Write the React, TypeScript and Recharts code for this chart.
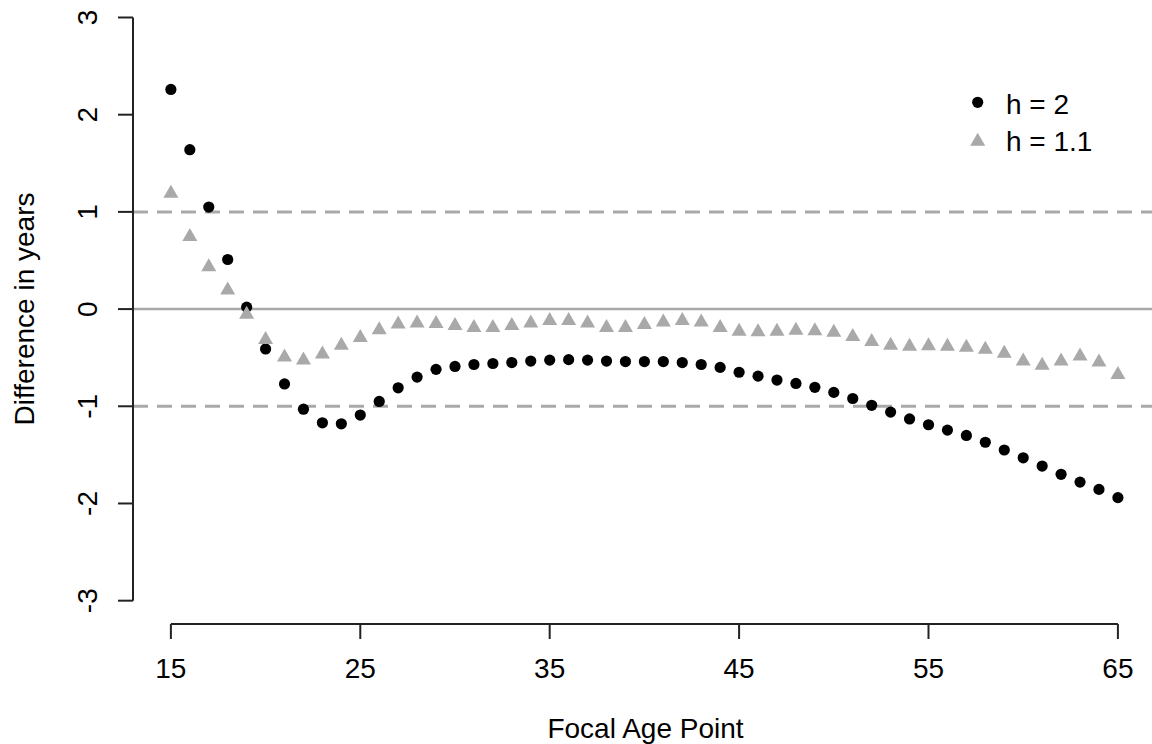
import { ScatterChart, Scatter, XAxis, YAxis, ReferenceLine, Legend } from 'recharts';

const ages = [
  15, 16, 17, 18, 19, 20, 21, 22, 23, 24, 25, 26, 27, 28, 29, 30, 31, 32, 33, 34,
  35, 36, 37, 38, 39, 40, 41, 42, 43, 44, 45, 46, 47, 48, 49, 50, 51, 52, 53, 54,
  55, 56, 57, 58, 59, 60, 61, 62, 63, 64, 65,
];

// h = 2 (black dots)
const h2Values = [
  2.26, 1.64, 1.05, 0.51, 0.02, -0.41, -0.77, -1.03, -1.17, -1.18, -1.09, -0.95, -0.81, -0.7, -0.62, -0.59, -0.57,
  -0.56, -0.55, -0.535, -0.525, -0.52, -0.525, -0.535, -0.54, -0.54, -0.54, -0.55, -0.57, -0.6, -0.65, -0.69,
  -0.73, -0.765, -0.805, -0.857, -0.92, -0.99, -1.06, -1.13, -1.19, -1.245, -1.3, -1.37, -1.45, -1.53, -1.615,
  -1.7, -1.78, -1.855, -1.94,
];

// h = 1.1 (grey triangles)
const h11Values = [
  1.19, 0.745, 0.435, 0.195, -0.055, -0.315, -0.495, -0.525, -0.465, -0.375, -0.295, -0.215, -0.155, -0.145, -0.15,
  -0.17, -0.19, -0.19, -0.17, -0.145, -0.12, -0.12, -0.145, -0.19, -0.19, -0.16, -0.135, -0.12, -0.135, -0.19,
  -0.23, -0.235, -0.23, -0.22, -0.225, -0.24, -0.285, -0.335, -0.375, -0.385, -0.38, -0.385, -0.395, -0.415,
  -0.455, -0.535, -0.58, -0.535, -0.485, -0.545, -0.675,
];

const seriesNames = ['h = 2', 'h = 1.1'];
const xTicks = [15, 25, 35, 45, 55, 65];
const yTicks = [-3, -2, -1, 0, 1, 2, 3];
const bandLines = [-1, 1];

const FONT = '"Liberation Sans", Arial, Helvetica, sans-serif';
const FONT_SIZE = 28;
const GREY = '#a9a9a9';
const INK = '#222';

const h2Data = ages.map((age, i) => ({ age, diff: h2Values[i] }));
const h11Data = ages.map((age, i) => ({ age, diff: h11Values[i] }));

function triPath(cx: number, cy: number) {
  const h = 13;
  const w = 7.5;
  return `M${cx},${cy - (2 * h) / 3} L${cx + w},${cy + h / 3} L${cx - w},${cy + h / 3} Z`;
}

function DotShape(props: any) {
  const { cx, cy } = props;
  if (cx == null || cy == null) return null;
  return <circle cx={cx} cy={cy} r={5.6} fill="#000" />;
}

function TriShape(props: any) {
  const { cx, cy } = props;
  if (cx == null || cy == null) return null;
  return <path d={triPath(cx, cy)} fill={GREY} />;
}

function YTick(props: any) {
  const { x, y, payload } = props;
  return (
    <text
      x={x}
      y={y}
      transform={`rotate(-90, ${x}, ${y})`}
      textAnchor="middle"
      fontSize={FONT_SIZE}
      fontFamily={FONT}
      fill="#000"
    >
      {payload.value}
    </text>
  );
}

function renderLegend(props: any) {
  // keep the plotting order (h = 2 first), not alphabetical
  const payload = [...(props.payload || [])].sort(
    (a: any, b: any) => seriesNames.indexOf(a.value) - seriesNames.indexOf(b.value),
  );
  return (
    <svg width={190} height={80}>
      {payload.map((entry: any, i: number) => {
        const cy = 22.3 + i * 37;
        return (
          <g key={entry.value}>
            {entry.type === 'triangle' ? (
              <path d={triPath(17.7, cy + 2)} fill={GREY} />
            ) : (
              <circle cx={17.7} cy={cy} r={5.6} fill="#000" />
            )}
            <text x={46} y={cy + 11.7} fontSize={FONT_SIZE} fontFamily={FONT} fill="#000">
              {entry.value}
            </text>
          </g>
        );
      })}
    </svg>
  );
}

export default function App() {
  return (
    <div style={{ position: 'absolute', left: 0, top: 0, width: 1152, height: 744, background: '#fff' }}>
      <ScatterChart width={1152} height={744} margin={{ top: 0, right: 0, bottom: 0, left: 0 }}>
        <XAxis
          type="number"
          dataKey="age"
          domain={[13, 66.8]}
          allowDataOverflow
          ticks={xTicks}
          interval={0}
          height={120}
          axisLine={false}
          tickSize={15}
          tickMargin={19}
          tickLine={{ stroke: INK, strokeWidth: 2 }}
          tick={{ fill: '#000', fontSize: FONT_SIZE, fontFamily: FONT }}
          label={{
            content: (p: any) => {
              const vb = p.viewBox || { x: 133, y: 624, width: 1019 };
              return (
                <text
                  x={vb.x + vb.width / 2 + 3}
                  y={vb.y + 114}
                  textAnchor="middle"
                  fontSize={FONT_SIZE}
                  fontFamily={FONT}
                  fill="#000"
                >
                  Focal Age Point
                </text>
              );
            },
          }}
        />
        <YAxis
          type="number"
          dataKey="diff"
          domain={[-3.24, 3.18]}
          allowDataOverflow
          ticks={yTicks}
          interval={0}
          width={133}
          axisLine={false}
          tickSize={15}
          tickMargin={21}
          tickLine={{ stroke: INK, strokeWidth: 2 }}
          tick={<YTick />}
          label={{
            content: () => (
              <text
                x={34}
                y={309}
                transform="rotate(-90, 34, 309)"
                textAnchor="middle"
                fontSize={FONT_SIZE}
                fontFamily={FONT}
                fill="#000"
              >
                Difference in years
              </text>
            ),
          }}
        />
        <ReferenceLine y={0} stroke={GREY} strokeWidth={2.5} />
        {bandLines.map((v) => (
          <ReferenceLine key={v} y={v} stroke={GREY} strokeWidth={3} strokeDasharray="15 9" />
        ))}
        <ReferenceLine
          segment={[{ x: 15, y: -3.24 }, { x: 65, y: -3.24 }]}
          stroke={INK}
          strokeWidth={2}
          ifOverflow="visible"
        />
        <ReferenceLine
          segment={[{ x: 13, y: -3 }, { x: 13, y: 3 }]}
          stroke={INK}
          strokeWidth={2}
          ifOverflow="visible"
        />
        <Scatter
          name={seriesNames[0]}
          data={h2Data}
          fill="#000"
          legendType="circle"
          shape={<DotShape />}
          isAnimationActive={false}
        />
        <Scatter
          name={seriesNames[1]}
          data={h11Data}
          fill={GREY}
          legendType="triangle"
          shape={<TriShape />}
          isAnimationActive={false}
        />
        <Legend
          layout="vertical"
          align="center"
          verticalAlign="middle"
          wrapperStyle={{ left: 960, top: 80, width: 190, height: 80 }}
          content={renderLegend}
        />
      </ScatterChart>
    </div>
  );
}
